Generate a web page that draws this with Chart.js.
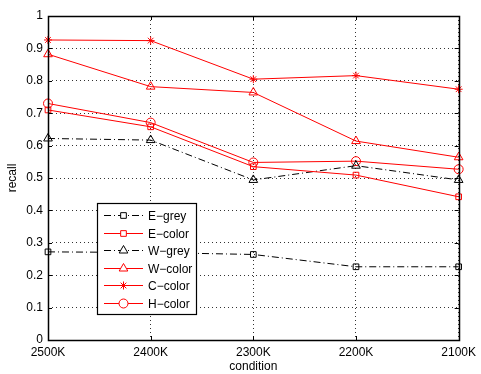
<!DOCTYPE html>
<html>
<head>
<meta charset="utf-8">
<script src="https://cdn.jsdelivr.net/npm/chart.js@4/dist/chart.umd.min.js"></script>
<style>
  html, body { margin: 0; padding: 0; background: #fff; }
  #wrap { width: 481px; height: 374px; }
</style>
</head>
<body>
<div id="wrap"><canvas id="recallChart" width="481" height="374"></canvas></div>
<script>
const conditions = ["2500K", "2400K", "2300K", "2200K", "2100K"];
const yTicks = [0, 0.1, 0.2, 0.3, 0.4, 0.5, 0.6, 0.7, 0.8, 0.9, 1];

const eGrey  = [0.272, 0.270, 0.264, 0.226, 0.226];
const eColor = [0.710, 0.658, 0.535, 0.509, 0.442];
const wGrey  = [0.622, 0.617, 0.494, 0.538, 0.494];
const wColor = [0.882, 0.782, 0.764, 0.614, 0.564];
const cColor = [0.926, 0.924, 0.805, 0.816, 0.774];
const hColor = [0.730, 0.671, 0.548, 0.552, 0.527];

const FONT = "'Liberation Sans', Arial, Helvetica, sans-serif";
const dashDot = [7, 3, 1, 3];

function series(label, data, color, style, radius, dash) {
    return {
        label: label,
        data: data,
        borderColor: color,
        backgroundColor: color,
        borderWidth: 1,
        borderDash: dash || [],
        pointStyle: style,
        pointRadius: radius,
        pointBorderColor: color,
        pointBackgroundColor: "rgba(0,0,0,0)",
        pointBorderWidth: 1,
        tension: 0
    };
}

// frame, inward tick marks and the boxed legend inside the plot
const framePlugin = {
    id: "frame",
    afterDraw(chart) {
        const c = chart.ctx, a = chart.chartArea;
        const xs = chart.scales.x, ys = chart.scales.y;
        c.save();
        c.strokeStyle = "#000";
        c.lineWidth = 1;
        c.setLineDash([]);
        c.beginPath();
        yTicks.forEach(v => {
            const y = Math.round(ys.getPixelForValue(v)) + 0.5;
            c.moveTo(a.left, y); c.lineTo(a.left + 4, y);
            c.moveTo(a.right, y); c.lineTo(a.right - 4, y);
        });
        conditions.forEach((_, i) => {
            const x = Math.round(xs.getPixelForValue(i)) + 0.5;
            c.moveTo(x, a.bottom); c.lineTo(x, a.bottom - 4);
            c.moveTo(x, a.top); c.lineTo(x, a.top + 4);
        });
        c.stroke();
        c.lineWidth = 1.5;
        c.strokeRect(Math.round(a.left) + 0.5, Math.round(a.top) + 0.5,
                     Math.round(a.right - a.left), Math.round(a.bottom - a.top));

        // legend
        const lx = 97, ly = 203, lw = 99, lh = 111;
        c.fillStyle = "#fff";
        c.fillRect(lx, ly, lw, lh);
        c.lineWidth = 1.2;
        c.strokeRect(lx + 0.5, ly + 0.5, lw, lh);
        c.font = "12px " + FONT;
        c.textBaseline = "middle";
        chart.data.datasets.forEach((ds, i) => {
            const y = Math.round(ly + 12 + i * 17.6) + 0.5;
            c.strokeStyle = ds.borderColor;
            c.lineWidth = 1;
            c.setLineDash(ds.borderDash);
            c.beginPath();
            c.moveTo(104, y); c.lineTo(143, y);
            c.stroke();
            c.setLineDash([]);
            // open markers: blank the line under them, then outline only
            c.fillStyle = "#fff";
            Chart.helpers.drawPoint(c, {
                pointStyle: ds.pointStyle,
                radius: ds.pointRadius,
                rotation: 0,
                borderWidth: 1
            }, 123.5, y);
            c.fillStyle = "#000";
            c.fillText(ds.label, 148, y + 1);
        });
        c.restore();
    }
};

new Chart(document.getElementById("recallChart"), {
    type: "line",
    data: {
        labels: conditions,
        datasets: [
            series("E\u2212grey", eGrey, "#000", "rect", 4, dashDot),
            series("E\u2212color", eColor, "#ff0000", "rect", 4),
            series("W\u2212grey", wGrey, "#000", "triangle", 5, dashDot),
            series("W\u2212color", wColor, "#ff0000", "triangle", 5),
            series("C\u2212color", cColor, "#ff0000", "star", 4),
            series("H\u2212color", hColor, "#ff0000", "circle", 4.5)
        ]
    },
    options: {
        responsive: false,
        animation: false,
        devicePixelRatio: 1,
        layout: { padding: { top: 16, right: 20, left: 0, bottom: 0 } },
        plugins: { legend: { display: false }, tooltip: { enabled: false } },
        scales: {
            x: {
                type: "category",
                offset: false,
                grid: { color: "#333", drawTicks: false },
                border: { display: false, dash: [1, 3] },
                ticks: { color: "#000", font: { family: FONT, size: 12 }, padding: 5, maxRotation: 0 },
                title: { display: true, text: "condition", color: "#000",
                         font: { family: FONT, size: 12 }, padding: { top: 0, bottom: 0 } },
                afterFit(scale) { scale.height = 34; }
            },
            y: {
                min: 0,
                max: 1,
                afterBuildTicks(scale) { scale.ticks = yTicks.map(v => ({ value: v })); },
                grid: { color: "#333", drawTicks: false },
                border: { display: false, dash: [1, 3] },
                ticks: { color: "#000", font: { family: FONT, size: 12 }, padding: 5,
                         callback: v => String(Math.round(v * 10) / 10) },
                title: { display: true, text: "recall", color: "#000",
                         font: { family: FONT, size: 12 }, padding: { top: 5, bottom: 0 } },
                afterFit(scale) { scale.width = 48; }
            }
        }
    },
    plugins: [framePlugin]
});
</script>
</body>
</html>
